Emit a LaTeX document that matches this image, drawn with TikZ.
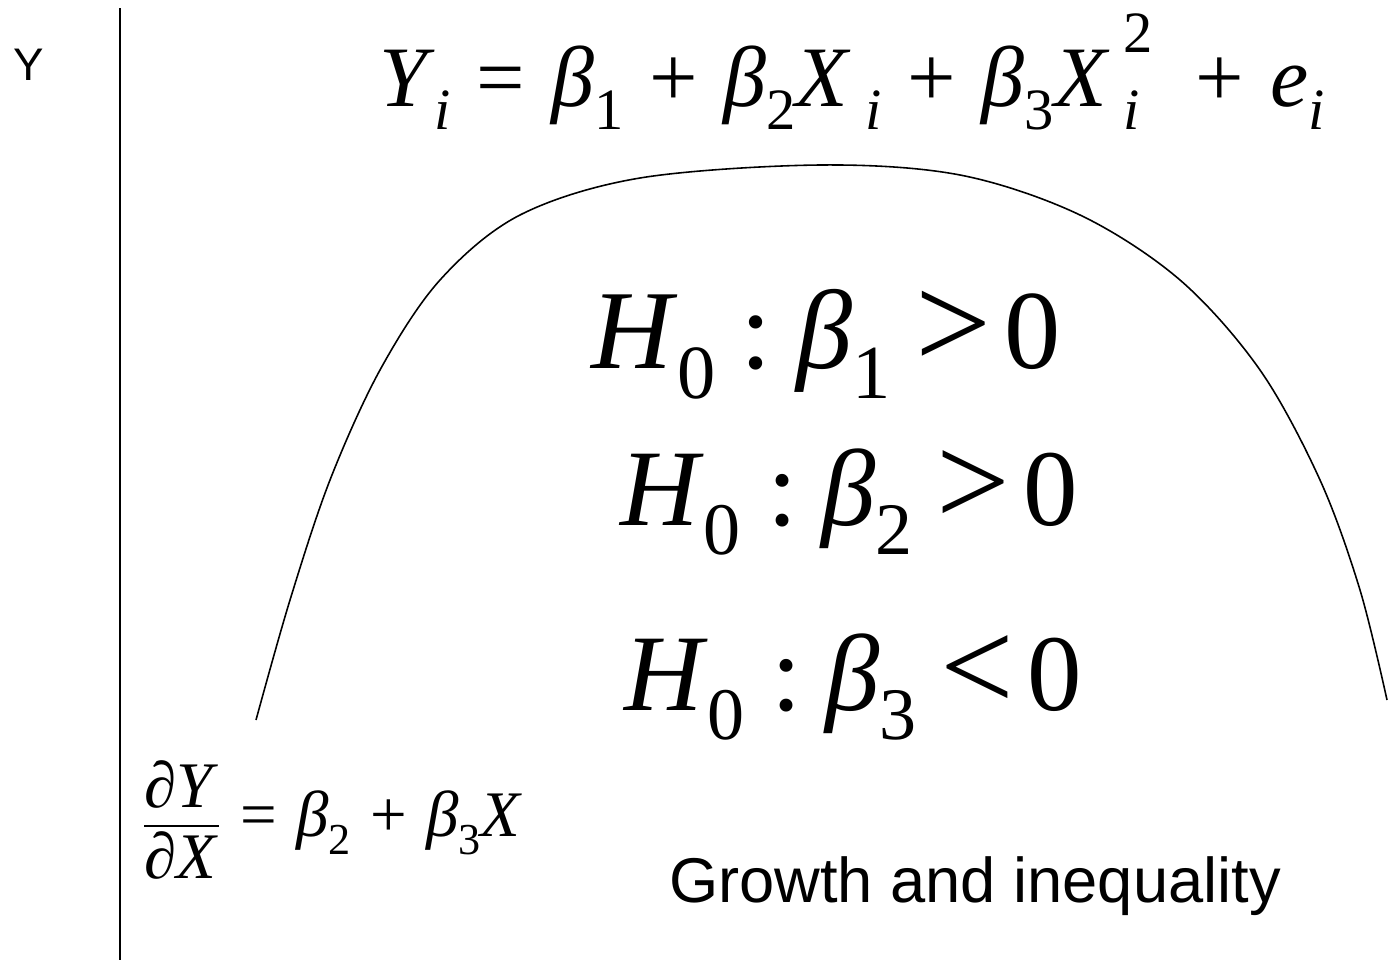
\documentclass[tikz,border=0pt]{standalone}
\usepackage{fontspec}
\usepackage{amsmath}
\newfontfamily\arialfont{Liberation Sans}
\newfontfamily\timesfont{Liberation Serif}
\newcommand{\lo}[1]{\raisebox{-0.27em}{\scalebox{0.68}{#1}}}
\newcommand{\hi}[1]{\raisebox{0.62em}{\scalebox{0.68}{#1}}}
\newcommand{\lohi}[2]{\makebox[0pt][l]{\hi{#2}}\lo{#1}}
\newcommand{\rel}[1]{\hspace{0.3em}#1\hspace{0.3em}}
\usetikzlibrary{positioning}
\tikzset{
  formula/.style={inner sep=0pt, text=black, font=\timesfont},
  plainlabel/.style={inner sep=0pt, font=\arialfont},
  curveline/.style={line width=0.9pt, black}
}
\begin{document}
\begin{tikzpicture}[x=0.02cm, y=-0.02cm]
\useasboundingbox (0,0) rectangle (1388,960);
% axis
\coordinate (ytop) at (120,8);
\coordinate (ybot) at (120,960);
\draw[line width=1.5pt] (ytop) -- (ybot);
\node (ylabel) [plainlabel, font=\arialfont\fontsize{26}{30}\selectfont, anchor=north west] at (13,49) {Y};
% model
\node (model) [formula, anchor=base] at (852,106) {\fontsize{49}{54}\selectfont \textit{Y}\lo{\textit{i}}\rel{=}\textit{β}\lo{1}\rel{+}\textit{β}\lo{2}\textit{X}\,\lo{\textit{i}}\rel{+}\textit{β}\lo{3}\textit{X}\,\lohi{\textit{i}}{2}\hspace{0.35em}\rel{+}\textit{e}\lo{\textit{i}}};
% curve
\draw[curveline] plot[smooth, tension=0.55] coordinates {(256,720) (290,600) (330,480) (380,370) (440,280) (520,215) (640,178) (820,165) (960,175) (1080,215) (1180,280) (1260,370) (1320,480) (1360,590) (1387,700)};
% hypotheses
\node (hypa) [formula, anchor=base] at (826,368) {\fontsize{64}{70}\selectfont \textit{H}\lo{0}\hspace{0.22em}:\hspace{0.22em}\textit{β}\lo{1}\hspace{0.22em}\scalebox{1.2}{\textgreater}\hspace{0.12em}0};
\node (hypb) [formula, anchor=base] at (849,525) {\fontsize{62}{68}\selectfont \textit{H}\lo{0}\hspace{0.24em}:\hspace{0.22em}\textit{β}\lo{2}\hspace{0.22em}\scalebox{1.2}{\textgreater}\hspace{0.12em}0};
\node (hypc) [formula, anchor=base] at (853,710) {\fontsize{62}{68}\selectfont \textit{H}\lo{0}\hspace{0.24em}:\hspace{0.22em}\textit{β}\lo{3}\hspace{0.22em}\scalebox{1.2}{\textless}\hspace{0.12em}0};
% slope
\node (slope) [formula, anchor=west] at (142,820) {\fontsize{37}{42}\selectfont $\dfrac{\text{\textit{∂Y}}}{\text{\textit{∂X}}}$\rel{=}\textit{β}\lo{2}\rel{+}\textit{β}\lo{3}\textit{X}};
\node (title) [plainlabel, font=\arialfont\fontsize{36}{40}\selectfont, anchor=base] at (975,902) {Growth and inequality};
\end{tikzpicture}
\end{document}
